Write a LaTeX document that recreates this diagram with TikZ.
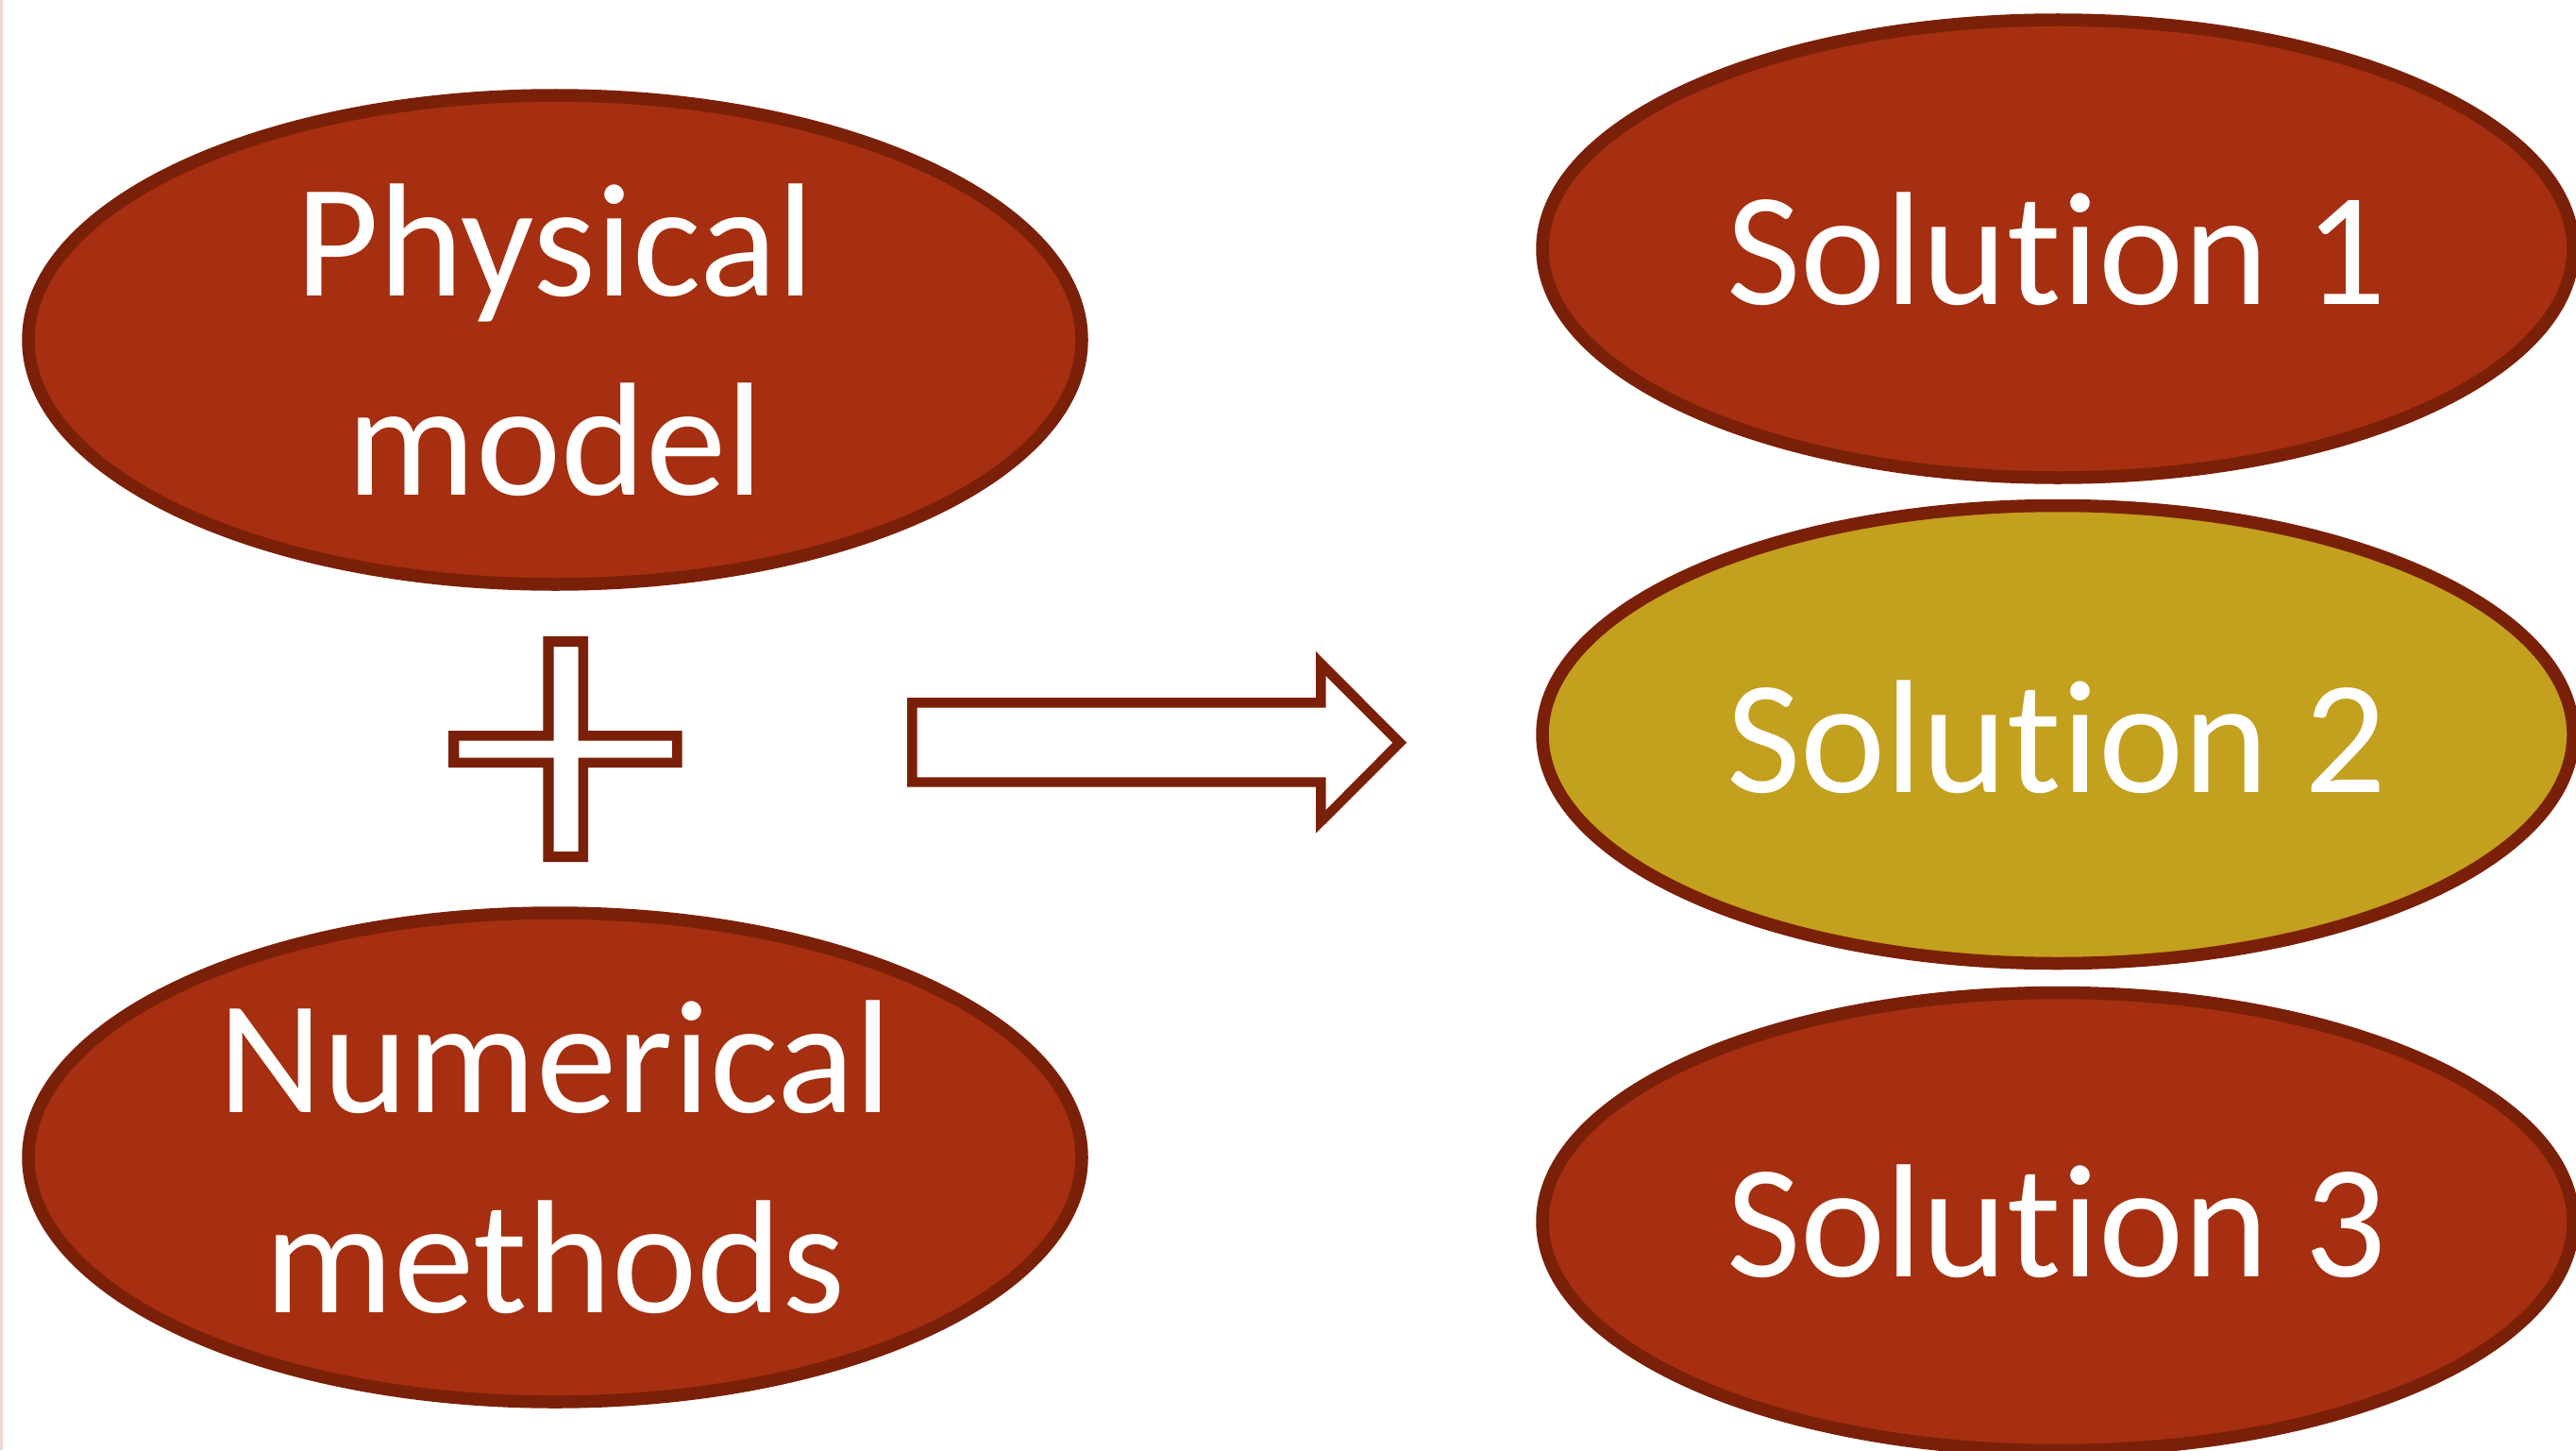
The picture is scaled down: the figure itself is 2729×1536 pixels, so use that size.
\documentclass[tikz,border=0pt]{standalone}
\usepackage{fontspec}
\setmainfont{Carlito}[Ligatures=NoCommon]
\usetikzlibrary{shapes.geometric}

\definecolor{rust}{RGB}{165,47,16}
\definecolor{rustedge}{RGB}{122,32,9}
\definecolor{mustard}{RGB}{195,160,30}
\definecolor{edgepink}{RGB}{240,215,210}

\tikzset{
  blob/.style={ellipse, draw=rustedge, fill=rust, line width=13.5pt, inner sep=0pt},
  leftblob/.style={blob, minimum width=1116pt, minimum height=518pt},
  rightblob/.style={blob, minimum width=1092pt, minimum height=485pt},
  caption/.style={anchor=base, text=white, inner sep=0pt,
    font=\fontsize{171}{209}\selectfont},
  outline/.style={fill=rustedge, even odd rule}
}

\begin{document}
\begin{tikzpicture}[x=1pt, y=-1pt]
  \useasboundingbox (0,0) rectangle (2729,1536);
  \clip (0,0) rectangle (2729,1536);
  \fill[white] (0,0) rectangle (2729,1536);
  \draw[edgepink, line width=3pt] (1,0) -- (1,1536);

  % inputs
  \node[leftblob] (phys) at (588,360) {};
  \node[caption] (physA) at (588,313) {Physical};
  \node[caption] (physB) at (588,524) {model};

  \node[leftblob] (num) at (588,1226) {};
  \node[caption] (numA) at (588,1178) {Numerical};
  \node[caption] (numB) at (588,1390) {methods};

  % plus sign
  \path[outline]
    (575.4,674) -- (623.1,674) -- (623.1,774) -- (722.7,774) -- (722.7,813) -- (623.1,813)
    -- (623.1,913) -- (575.4,913) -- (575.4,813) -- (475.1,813) -- (475.1,774) -- (575.4,774) -- cycle
    (586.6,685) -- (612.6,685) -- (612.6,784.7) -- (712.2,784.7) -- (712.2,802.7) -- (612.6,802.7)
    -- (612.6,902) -- (586.6,902) -- (586.6,802.7) -- (486.3,802.7) -- (486.3,784.7) -- (586.6,784.7) -- cycle;

  % block arrow
  \path[outline]
    (961.2,739) -- (1394,739) -- (1394,690) -- (1490.2,786.7) -- (1394,882.7) -- (1394,833.7)
    -- (961.2,833.7) -- cycle
    (971.7,749.7) -- (1404.6,749.7) -- (1404.6,716) -- (1475.4,786.7) -- (1404.6,858)
    -- (1404.6,823.3) -- (971.7,823.3) -- cycle;

  % outcomes
  \node[rightblob] (sol1) at (2180,263.5) {};
  \node[caption] (sol1t) at (2179,322) {Solution 1};

  \node[rightblob, fill=mustard] (sol2) at (2180,778) {};
  \node[caption] (sol2t) at (2179,839) {Solution 2};

  \node[rightblob] (sol3) at (2180,1294) {};
  \node[caption] (sol3t) at (2179,1352) {Solution 3};
\end{tikzpicture}
\end{document}
